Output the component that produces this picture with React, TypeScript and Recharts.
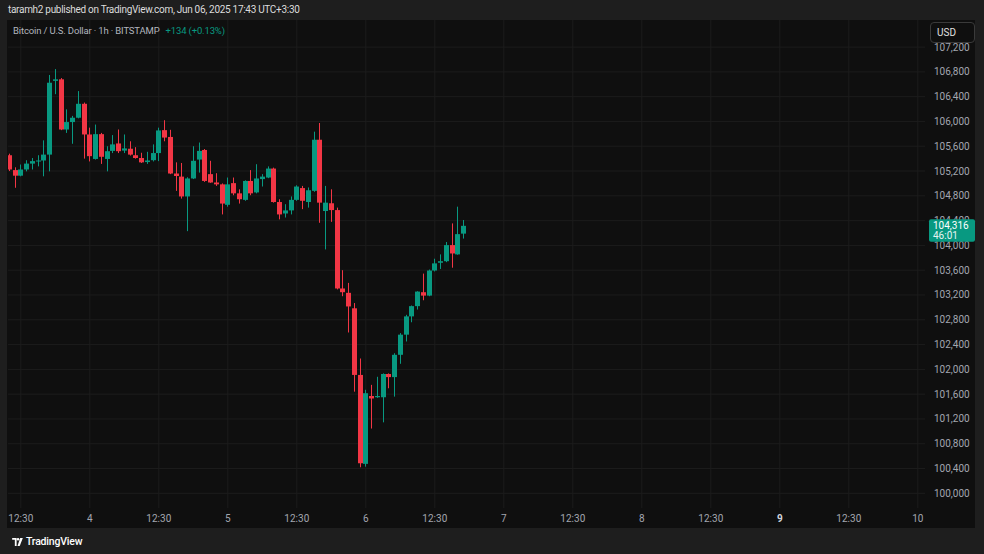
import React from 'react';
import {
  ComposedChart,
  Bar,
  XAxis,
  YAxis,
  CartesianGrid,
} from 'recharts';

// BTC/USD 1h, BITSTAMP — bar index = hours since Jun 3 00:30 (UTC+3:30)
const barIndex = [
  10, 11, 12, 13, 14, 15, 16, 17, 18, 19, 20, 21, 22, 23, 24, 25, 26, 27, 28, 29,
  30, 31, 32, 33, 34, 35, 36, 37, 38, 39, 40, 41, 42, 43, 44, 45, 46, 47, 48, 49,
  50, 51, 52, 53, 54, 55, 56, 57, 58, 59, 60, 61, 62, 63, 64, 65, 66, 67, 68, 69,
  70, 71, 72, 73, 74, 75, 76, 77, 78, 79, 80, 81, 82, 83, 84, 85, 86, 87, 88, 89,
];

const opens = [
  105455, 105215, 105125, 105225, 105320, 105355, 105370, 105465, 106655, 106680,
  105870, 105990, 106060, 106285, 105790, 105395, 105795, 105395, 105525, 105645,
  105530, 105560, 105455, 105410, 105345, 105375, 105490, 105860, 105750, 105160,
  105110, 104790, 105080, 105385, 105540, 105150, 105015, 104985, 104655, 105005,
  104840, 104735, 105040, 104855, 105070, 105095, 105240, 104700, 104515, 104565,
  104735, 104925, 104700, 104880, 105705, 104555, 104680, 104570, 103305, 103235,
  102985, 101910, 100475, 101570, 101550, 101550, 101925, 101875, 102235, 102560,
  102855, 103020, 103245, 103190, 103595, 103720, 103745, 104005, 103855, 104190,
];

const highs = [
  105480, 105260, 105305, 105375, 105410, 105455, 105695, 106750, 106845, 106700,
  106195, 106090, 106490, 106305, 105900, 105950, 105815, 105600, 105780, 105870,
  105790, 105680, 105585, 105495, 105510, 105630, 105900, 106020, 105865, 105340,
  105330, 105100, 105600, 105660, 105555, 105365, 105165, 105000, 105095, 105095,
  104905, 105050, 105215, 105310, 105150, 105275, 105255, 104745, 104665, 104790,
  104970, 104960, 104935, 105835, 105975, 104960, 104905, 104610, 103600, 103395,
  103070, 102175, 101670, 101750, 101880, 101935, 101935, 102260, 102585, 102880,
  103030, 103260, 103545, 103610, 103785, 103855, 104055, 104355, 104625, 104410,
];

const lows = [
  105200, 104930, 105115, 105195, 105225, 105275, 105115, 105195, 106440, 105860,
  105815, 105640, 106050, 105400, 105355, 105385, 105315, 105195, 105490, 105490,
  105490, 105450, 105400, 105330, 105315, 105355, 105360, 105680, 105150, 104880,
  104755, 104230, 105070, 105175, 105025, 105010, 104960, 104500, 104625, 104810,
  104675, 104720, 104810, 104840, 104950, 105085, 104690, 104420, 104450, 104500,
  104720, 104585, 104610, 104865, 104365, 103935, 104380, 103290, 103180, 102595,
  101640, 100420, 100430, 101045, 101540, 101145, 101695, 101560, 102090, 102450,
  102760, 102965, 103115, 103180, 103580, 103620, 103730, 103640, 103850, 104110,
];

const closes = [
  105225, 105125, 105225, 105320, 105360, 105370, 105465, 106625, 106680, 105870,
  105990, 106060, 106285, 105790, 105440, 105795, 105430, 105520, 105630, 105520,
  105565, 105465, 105410, 105340, 105370, 105490, 105855, 105740, 105160, 105120,
  104790, 105080, 105365, 105525, 105040, 105015, 104985, 104675, 104985, 104840,
  104745, 105040, 104840, 105080, 105110, 105240, 104700, 104500, 104565, 104735,
  104950, 104720, 104890, 105705, 104690, 104690, 104570, 103305, 103245, 103015,
  101910, 100485, 101615, 101530, 101570, 101925, 101875, 102235, 102560, 102855,
  103020, 103255, 103190, 103595, 103710, 103745, 104005, 103870, 104182, 104316,
];

const timeTicks = [12, 24, 36, 48, 60, 72, 84, 96, 108, 120, 132, 144, 156, 168];
const timeLabels = ['12:30', '4', '12:30', '5', '12:30', '6', '12:30', '7', '12:30', '8', '12:30', '9', '12:30', '10'];
const priceTicks = [
  100000, 100400, 100800, 101200, 101600, 102000, 102400, 102800, 103200,
  103600, 104000, 104400, 104800, 105200, 105600, 106000, 106400, 106800, 107200,
];

const GREEN = '#089981';
const RED = '#f23645';
const FONT = 'Roboto, "Noto Sans", sans-serif';

const data = barIndex.map((t, k) => ({
  t,
  open: opens[k],
  high: highs[k],
  low: lows[k],
  close: closes[k],
  range: [lows[k], highs[k]],
}));

const lastClose = closes[closes.length - 1];
// last price goes last so its badge is painted over the regular labels
const axisTicks = [...priceTicks, lastClose];

const Candle = (props: any) => {
  const { x, y, width, height, payload } = props;
  const top = Math.min(y, y + height);
  const h = Math.abs(height);
  const k = payload.high === payload.low ? 0 : h / (payload.high - payload.low);
  const yO = top + (payload.high - payload.open) * k;
  const yC = top + (payload.high - payload.close) * k;
  const color = payload.close >= payload.open ? GREEN : RED;
  const cx = Math.round(x + width / 2) + 0.5;
  return (
    <g>
      <line x1={cx} x2={cx} y1={top} y2={top + h} stroke={color} strokeWidth={1} />
      <rect
        x={cx - 2.5}
        y={Math.min(yO, yC)}
        width={5}
        height={Math.max(1, Math.abs(yC - yO))}
        fill={color}
      />
    </g>
  );
};

const PriceTick = (props: any) => {
  const { x, y, payload, index } = props;
  if (index === axisTicks.length - 1) {
    const left = x + 4;
    return (
      <g>
        <rect x={left} y={y - 6.5} width={46} height={22.5} rx={2} fill={GREEN} />
        <text x={left + 4} y={y + 3.5} fill="#ffffff" fontSize={10} fontFamily={FONT}>
          {lastClose.toLocaleString('en-US')}
        </text>
        <text x={left + 4} y={y + 13.5} fill="#e6f4f1" fontSize={10} fontFamily={FONT}>
          46:01
        </text>
      </g>
    );
  }
  return (
    <text x={x + 9} y={y + 3.5} fill="#a3a6af" fontSize={10} fontFamily={FONT}>
      {payload.value.toLocaleString('en-US')}
    </text>
  );
};

const TimeTick = (props: any) => {
  const { x, y, payload } = props;
  const label = timeLabels[timeTicks.indexOf(payload.value)] ?? '';
  const bold = label === '9';
  return (
    <text
      x={x}
      y={y + 14}
      textAnchor="middle"
      fill={bold ? '#d1d4dc' : '#a3a6af'}
      fontWeight={bold ? 700 : 400}
      fontSize={10}
      fontFamily={FONT}
    >
      {label}
    </text>
  );
};

const TvLogo = () => (
  <svg width={11} height={8} viewBox="0 0 12 9" style={{ marginRight: 3 }}>
    <path d="M0 0h5v9H3V2H0z" fill="#ffffff" />
    <circle cx={6.6} cy={1.4} r={1.4} fill="#ffffff" />
    <path d="M9 0h3L8.5 9H6z" fill="#ffffff" />
  </svg>
);

export default function App() {
  return (
    <div
      style={{
        position: 'absolute',
        left: 0,
        top: 0,
        width: 984,
        height: 554,
        background: '#1e1e1e',
        fontFamily: FONT,
        overflow: 'hidden',
      }}
    >
      <div
        style={{
          position: 'absolute',
          left: 8,
          top: 4,
          fontSize: 10,
          letterSpacing: -0.3,
          color: '#dcdcdc',
          whiteSpace: 'nowrap',
        }}
      >
        taramh2 published on TradingView.com, Jun 06, 2025 17:43 UTC+3:30
      </div>

      <div
        style={{
          position: 'absolute',
          left: 7,
          top: 20,
          width: 968,
          height: 508,
          background: '#0f0f0f',
        }}
      />

      <div style={{ position: 'absolute', left: 0, top: 0 }}>
        <ComposedChart
          width={984}
          height={554}
          data={data}
          margin={{ top: 20, right: 9, bottom: 26, left: 8 }}
        >
          <CartesianGrid
            stroke="#1c1c1c"
            strokeWidth={1}
            horizontalValues={priceTicks}
            verticalValues={timeTicks}
          />
          <XAxis
            dataKey="t"
            type="number"
            domain={[9.77, 169.25]}
            allowDataOverflow
            ticks={timeTicks}
            interval={0}
            height={20}
            axisLine={false}
            tickLine={false}
            tickSize={0}
            tickMargin={0}
            tick={<TimeTick />}
          />
          <YAxis
            orientation="right"
            type="number"
            domain={[99763, 107637]}
            allowDataOverflow
            ticks={axisTicks}
            interval={0}
            width={50}
            axisLine={false}
            tickLine={false}
            tickSize={0}
            tickMargin={0}
            tick={<PriceTick />}
          />
          <Bar
            dataKey="range"
            barSize={5}
            shape={<Candle />}
            isAnimationActive={false}
          />
        </ComposedChart>
      </div>

      <div
        style={{
          position: 'absolute',
          left: 13,
          top: 25,
          fontSize: 9.5,
          letterSpacing: -0.15,
          color: '#b2b5be',
          whiteSpace: 'nowrap',
        }}
      >
        Bitcoin / U.S. Dollar · 1h · BITSTAMP
        <span style={{ color: GREEN, marginLeft: 6 }}>+134 (+0.13%)</span>
      </div>

      <div
        style={{
          position: 'absolute',
          left: 930,
          top: 22,
          width: 37,
          height: 19,
          border: '1px solid #3a3a3a',
          borderRadius: 4,
          background: '#0f0f0f',
          color: '#e0e0e0',
          fontSize: 10,
          lineHeight: '19px',
          paddingLeft: 6,
          boxSizing: 'content-box',
        }}
      >
        USD
      </div>

      <div
        style={{
          position: 'absolute',
          left: 12,
          top: 535,
          display: 'flex',
          alignItems: 'center',
          color: '#ffffff',
          fontSize: 10.5,
          fontWeight: 500,
          letterSpacing: -0.2,
        }}
      >
        <TvLogo />
        TradingView
      </div>
    </div>
  );
}
